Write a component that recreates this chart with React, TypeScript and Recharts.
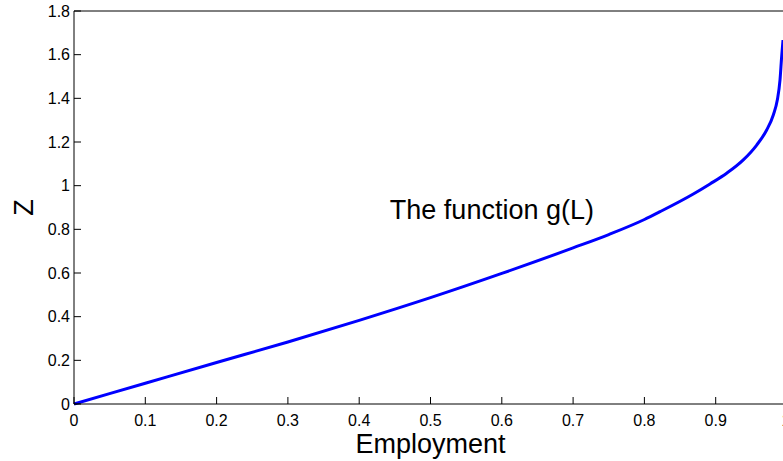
import { Line, LineChart, ReferenceDot, XAxis, YAxis } from "recharts";

// g(L)
const employment = [
  0, 0.1, 0.2, 0.3, 0.4, 0.5, 0.6, 0.7, 0.75, 0.8, 0.822, 0.8686, 0.892,
  0.9154, 0.9387, 0.9575, 0.9715, 0.9808, 0.9864, 0.9902, 0.9925, 0.9944,
];
const zValues = [
  0, 0.095, 0.19, 0.284, 0.383, 0.487, 0.598, 0.715, 0.776, 0.845, 0.881,
  0.962, 1.008, 1.057, 1.118, 1.186, 1.255, 1.324, 1.392, 1.484, 1.591, 1.667,
];

const xTicks = [0, 0.1, 0.2, 0.3, 0.4, 0.5, 0.6, 0.7, 0.8, 0.9, 1];
const yTicks = [0, 0.2, 0.4, 0.6, 0.8, 1, 1.2, 1.4, 1.6, 1.8];

const xLabel = "Employment";
const yLabel = "Z";
const curveText = "The function g(L)";
const curveTextAt = { L: 0.443, z: 0.847 };

const FONT = "'Liberation Sans', Arial, Helvetica, sans-serif";

const data = employment.map((L, i) => ({ L, z: zValues[i] }));

const tickStyle = { fill: "#000", fontSize: 16, fontFamily: FONT };

function YTitle({ viewBox }: any) {
  const x = viewBox.x + 33;
  const y = viewBox.y + viewBox.height / 2;
  return (
    <text
      x={x}
      y={y}
      transform={`rotate(-90 ${x} ${y})`}
      textAnchor="middle"
      fontSize={27}
      fontFamily={FONT}
      fill="#000"
    >
      {yLabel}
    </text>
  );
}

function CurveNote({ viewBox }: any) {
  return (
    <text
      x={viewBox.x}
      y={viewBox.y}
      textAnchor="start"
      fontSize={27}
      fontFamily={FONT}
      fill="#000"
    >
      {curveText}
    </text>
  );
}

export default function App() {
  return (
    <div
      style={{
        position: "absolute",
        left: 0,
        top: 0,
        width: 783,
        height: 461,
        overflow: "hidden",
        background: "#fff",
      }}
    >
      <LineChart
        width={790}
        height={461}
        data={data}
        margin={{ top: 10, right: 2, bottom: 0, left: 0 }}
      >
        <XAxis
          dataKey="L"
          type="number"
          domain={[0, 1]}
          ticks={xTicks}
          height={57}
          stroke="#000"
          tickSize={-7}
          tickMargin={18}
          tick={tickStyle}
          label={{
            value: xLabel,
            position: "insideBottom",
            offset: 8,
            fontSize: 27,
            fontFamily: FONT,
            fill: "#000",
          }}
        />
        <XAxis
          xAxisId="top"
          orientation="top"
          dataKey="L"
          type="number"
          domain={[0, 1]}
          ticks={xTicks}
          height={1}
          stroke="#000"
          tickSize={-7}
          tick={false}
        />
        <YAxis
          type="number"
          domain={[0, 1.8]}
          ticks={yTicks}
          width={74}
          stroke="#000"
          tickSize={-7}
          tickMargin={11}
          tick={tickStyle}
          label={{ content: YTitle }}
        />
        <YAxis
          yAxisId="right"
          orientation="right"
          type="number"
          domain={[0, 1.8]}
          ticks={yTicks}
          width={1}
          stroke="#000"
          tickSize={-7}
          tick={false}
        />
        <Line
          type="monotone"
          dataKey="z"
          stroke="#0000ff"
          strokeWidth={3}
          dot={false}
          isAnimationActive={false}
        />
        <ReferenceDot
          x={curveTextAt.L}
          y={curveTextAt.z}
          r={0}
          fill="none"
          stroke="none"
          label={{ content: CurveNote }}
        />
      </LineChart>
    </div>
  );
}
